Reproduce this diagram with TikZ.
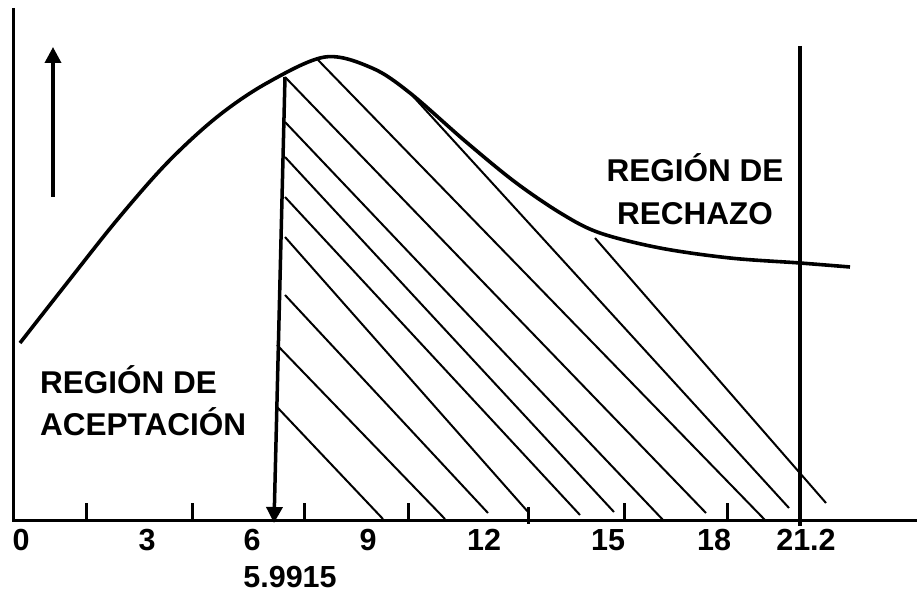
\documentclass[tikz,border=0pt]{standalone}
\usepackage{fontspec}
\setmainfont{Liberation Sans}
\usepackage{tikz}
\usetikzlibrary{arrows.meta}
\tikzstyle{region} = [inner sep=0pt, font=\fontsize{31.5}{36}\selectfont\bfseries]
\tikzstyle{number} = [inner sep=0pt, anchor=base, font=\fontsize{30.5}{36}\selectfont\bfseries]
\tikzstyle{axis} = [line width=3pt]
\tikzstyle{hatch} = [line width=2pt]
\tikzstyle{arrow} = [line width=3.5pt, -{Triangle[width=16pt,length=16pt]}]

\begin{document}
\begin{tikzpicture}[x=1pt, y=-1pt]
    \useasboundingbox (0,0) rectangle (917,593);

    \coordinate (origin) at (13,520);
    \coordinate (ytop) at (13,8);
    \coordinate (xend) at (917,520);
    \draw [axis] (ytop) -- (origin) -- (xend);
    \foreach \x in {86,192,304,408,624,727}
        \draw [axis] (\x,503) -- (\x,520);
    \draw [axis] (528,507) -- (528,524);

    \foreach \x/\t [count=\i] in {21/0,147/3,252/6,368/9,484/12,608/15,714/18,806/21.2}
        \node (num\i) [number] at (\x,550) {\t};
    \node (crit) [number] at (290,587) {5.9915};

    \foreach \a/\b/\c/\d in {285/77/706/513, 285/122/664/521, 285/157/614/512, 285/197/580/515,
        285/237/529/513, 285/295/488/513, 277/345/445/519, 277/407/383/519,
        318/60/765/520, 410/93/789/508, 595/238/826/503}
        \draw [hatch] (\a,\b) -- (\c,\d);

    \draw [line width=3.6pt] plot[smooth, tension=0.55] coordinates {(20,343) (67,283) (117,220)
        (167,163) (217,117) (267,83) (325,57) (372,68) (410,93) (465,141) (515,182) (562,214)
        (600,233) (660,248) (730,258) (800,263) (850,267)};

    \coordinate (rtop) at (800,46);
    \coordinate (rfoot) at (800,526);
    \draw [line width=3.5pt] (rtop) -- (rfoot);

    \coordinate (ctop) at (285,77);
    \coordinate (cfoot) at (274,523);
    \draw [arrow] (ctop) -- (cfoot);
    \coordinate (ubot) at (53,197);
    \coordinate (utop) at (53,47);
    \draw [arrow] (ubot) -- (utop);

    \node (acep1) [region, anchor=base west] at (40,393) {REGIÓN DE};
    \node (acep2) [region, anchor=base west] at (40,435) {ACEPTACIÓN};
    \node (rech1) [region, anchor=base] at (695,182) {REGIÓN DE};
    \node (rech2) [region, anchor=base] at (695,225) {RECHAZO};
\end{tikzpicture}
\end{document}
